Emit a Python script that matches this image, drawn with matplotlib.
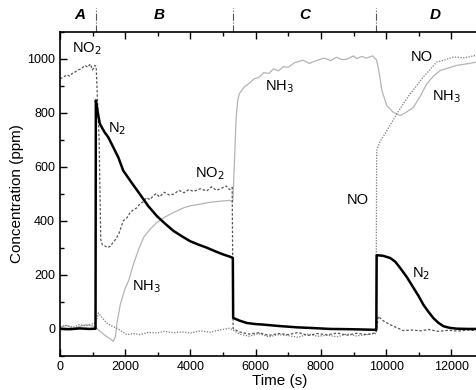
import matplotlib.pyplot as plt
from matplotlib.ticker import MultipleLocator
import matplotlib.transforms as mtransforms

plt.rcParams['font.family'] = ['Liberation Sans', 'DejaVu Sans']

# N2 (black solid)
t_n2 = [0, 300, 600, 900, 1090, 1100, 1160, 1220, 1280, 1380, 1480, 1600, 1790, 1940,
        2200, 2450, 2700, 2970, 3230, 3480, 3740, 3990, 4250, 4500, 4750, 5000, 5200,
        5300, 5310, 5500, 5730, 6000, 6240, 6700, 7260, 7800, 8280, 8900, 9600, 9700,
        9710, 9900, 10120, 10280, 10430, 10640, 10840, 11000, 11140, 11300, 11450,
        11600, 11760, 11950, 12170, 12500, 12760, 13000]
n2 = [0, -2, 1, -1, 0, 845, 800, 760, 746, 725, 709, 680, 634, 585,
      540, 498, 455, 417, 388, 362, 342, 324, 311, 300, 287, 275, 267,
      262, 40, 30, 21, 17, 15, 10, 5, 2, -1, -2, -4, -4,
      272, 270, 262, 248, 225, 190, 151, 120, 89, 62, 39,
      22, 9, 3, 0, -1, -1, -1]

# NO2 (dark dotted)
t_no2 = [0, 100, 200, 300, 400, 460, 550, 650, 770, 850, 930, 1000, 1070, 1110,
         1200, 1250, 1300, 1380, 1460, 1540, 1620, 1700, 1800, 1940, 2050, 2150,
         2250, 2350, 2450, 2550, 2650, 2760, 2860, 2950, 3050, 3200, 3350, 3480,
         3650, 3800, 3950, 4100, 4300, 4500, 4650, 4800, 4950, 5100, 5200, 5280,
         5310, 5500, 5800, 6100, 6400, 6700, 7000, 7300, 7600, 7900, 8200, 8500,
         8800, 9100, 9400, 9690, 9760, 9900, 10120, 10300, 10530, 10800, 11060,
         11300, 11600, 11900, 12200, 12500, 12800, 13000]
no2 = [926, 930, 940, 935, 948, 950, 958, 962, 975, 968, 980, 958, 975, 970,
       700, 330, 310, 306, 300, 305, 318, 330, 350, 399, 410, 430,
       440, 447, 462, 470, 485, 478, 492, 500, 488, 505, 495, 498,
       512, 503, 515, 508, 518, 510, 525, 512, 520, 528, 515, 523,
       0, -12, -20, -15, -25, -18, -22, -14, -25, -18, -23, -16,
       -24, -17, -22, -15, 46, 30, 15, 5, -7, -5, -8,
       -3, -10, -6, -9, -5, -8, -6]

# NO (grey dotted)
t_no = [0, 200, 400, 600, 800, 1000, 1090, 1180, 1300, 1430, 1580, 1740, 1900,
        2050, 2250, 2450, 2700, 2970, 3200, 3480, 3750, 4000, 4300, 4600, 4900,
        5200, 5300, 5500, 5800, 6100, 6400, 6700, 7000, 7300, 7600, 7900, 8200,
        8500, 8800, 9100, 9400, 9690, 9710, 9800, 10020, 10180, 10330, 10540,
        10740, 10940, 11140, 11350, 11550, 11800, 12070, 12400, 12760, 13000]
no = [8, 12, 5, 15, 10, 18, 20, 58, 40, 21, 10, 2, -10,
      -22, -18, -22, -14, -16, -10, -15, -12, -16, -8, -13, -5,
      2, -5, -20, -28, -18, -30, -22, -26, -32, -20, -28, -24,
      -30, -20, -27, -22, -18, 659, 690, 733, 765, 796, 835,
      870, 900, 932, 960, 987, 995, 1006, 1003, 1012, 1010]

# NH3 (light grey solid)
t_nh3 = [0, 200, 400, 600, 800, 1000, 1100, 1250, 1430, 1550, 1630, 1700, 1740,
         1850, 2000, 2100, 2250, 2400, 2560, 2760, 2970, 3200, 3480, 3800, 4000,
         4300, 4600, 5000, 5200, 5300, 5350, 5400, 5450, 5500, 5650, 5800, 5950,
         6100, 6250, 6400, 6550, 6700, 6850, 7000, 7200, 7450, 7650, 7800, 8100,
         8300, 8470, 8650, 8800, 9000, 9100, 9250, 9400, 9590, 9710,
         9790, 9870, 10020, 10220, 10430, 10600, 10840, 11050, 11250, 11450, 11660,
         11900, 12170, 12450, 12760, 13000]
nh3 = [5, 12, 0, 8, 15, 10, 5, -12, -29, -38, -47, -30, 15,
       90, 150, 176, 238, 290, 337, 368, 393, 412, 430, 448, 455,
       461, 468, 473, 475, 470, 620, 780, 845, 870, 895, 908, 925,
       930, 948, 945, 962, 955, 970, 968, 985, 994, 982, 990, 1002,
       992, 1005, 996, 998, 1010, 1000, 1008, 1002, 1010, 994,
       945, 882, 826, 801, 789, 800, 820, 862, 907, 935, 956,
       965, 975, 980, 987, 990]

fig = plt.figure(figsize=(4.76, 3.9), dpi=100)
ax = fig.add_axes([0.126, 0.088, 0.925, 0.831])

ax.plot(t_nh3, nh3, color='#b4b4b4', lw=0.9)
ax.plot(t_no, no, color='#7a7a7a', lw=0.9, linestyle=(0, (1, 1.2)))
ax.plot(t_no2, no2, color='#555555', lw=0.9, linestyle=(0, (2, 1.5)))
ax.plot(t_n2, n2, color='black', lw=1.8)

ax.set_xlim(0, 13500)
ax.set_ylim(-100, 1100)
ax.xaxis.set_major_locator(MultipleLocator(2000))
ax.xaxis.set_minor_locator(MultipleLocator(1000))
ax.yaxis.set_major_locator(MultipleLocator(200))
ax.yaxis.set_minor_locator(MultipleLocator(100))
ax.tick_params(which='both', direction='in', top=True, right=False, labelsize=9)
ax.tick_params(which='major', length=5, width=1)
ax.tick_params(which='minor', length=3, width=1)
for s in ax.spines.values():
    s.set_linewidth(1.2)
ax.set_xlabel('Time (s)', fontsize=11, labelpad=1)
ax.set_ylabel('Concentration (ppm)', fontsize=11, labelpad=2)

# curve labels
labels = [('NO$_2$', 380, 1035), ('N$_2$', 1480, 740), ('NO$_2$', 4150, 575),
          ('NH$_3$', 2200, 155), ('NH$_3$', 6300, 895), ('NO', 10750, 1005),
          ('NH$_3$', 11400, 860), ('NO', 8800, 478), ('N$_2$', 10800, 205)]
for txt, x, y in labels:
    ax.text(x, y, txt, fontsize=10.5, va='center', ha='left')

# phase markers above the frame
trans = mtransforms.blended_transform_factory(ax.transData, ax.transAxes)
for xb in [1100, 5300, 9700]:
    ax.plot([xb, xb], [1.0, 1.074], transform=trans, color='#555555', lw=0.8,
            linestyle='-.', clip_on=False)
for name, xp in [('A', 600), ('B', 3050), ('C', 7500), ('D', 11500)]:
    ax.text(xp, 1.05, name, transform=trans, ha='center', va='center',
            fontsize=11, fontweight='bold', fontstyle='italic')

fig.savefig('out.png', dpi=100)
